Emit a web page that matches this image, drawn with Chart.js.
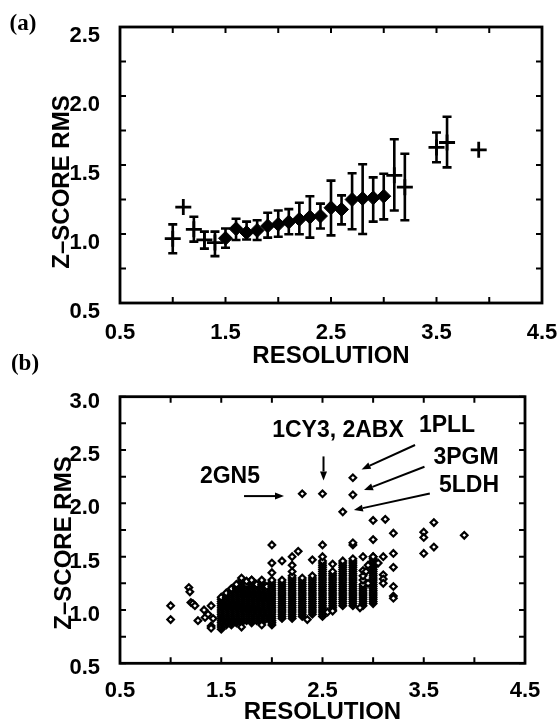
<!DOCTYPE html>
<html><head><meta charset="utf-8">
<script src="https://cdn.jsdelivr.net/npm/chart.js@4/dist/chart.umd.min.js"></script>
<style>
html,body{margin:0;padding:0;background:#fff;}
body{width:558px;height:721px;position:relative;overflow:hidden;}
#ca{position:absolute;left:0;top:0;}
#cb{position:absolute;left:0;top:340px;}
</style></head><body>
<canvas id="ca" width="558" height="372"></canvas>
<canvas id="cb" width="558" height="400"></canvas>
<script>
// ---------------- DATA ----------------
// Panel (a): binned mean Z-score RMS vs resolution with error bars
const diamondRes  = [1.5, 1.6, 1.7, 1.8, 1.9, 2.0, 2.1, 2.2, 2.3, 2.4, 2.5, 2.6, 2.7, 2.8, 2.9, 3.0];
const diamondRms  = [0.969, 1.038, 1.010, 1.026, 1.058, 1.070, 1.087, 1.106, 1.123, 1.130, 1.190, 1.178, 1.250, 1.257, 1.262, 1.274];
const diamondLow  = [0.900, 0.957, 0.960, 0.957, 0.974, 0.980, 0.998, 0.998, 0.974, 1.040, 0.990, 1.070, 1.034, 1.000, 1.090, 1.106];
const diamondHigh = [1.040, 1.110, 1.090, 1.100, 1.154, 1.170, 1.180, 1.226, 1.274, 1.220, 1.387, 1.280, 1.440, 1.505, 1.410, 1.437];
const crossRes  = [1.0, 1.1, 1.2, 1.3, 1.4, 3.1, 3.2, 3.5, 3.6, 3.9];
const crossRms  = [0.966, 1.195, 1.034, 0.957, 0.938, 1.425, 1.339, 1.627, 1.663, 1.610];
const crossLow  = [0.860, null, 0.945, 0.894, 0.840, 1.170, 1.100, 1.520, 1.483, null];
const crossHigh = [1.070, null, 1.125, 1.017, 1.017, 1.687, 1.582, 1.735, 1.850, null];

// Panel (b): individual structures, stacked per resolution value
const colRes = [1.5, 1.55, 1.6, 1.65, 1.7, 1.75, 1.8, 1.85, 1.9, 1.95, 2.0, 2.1, 2.2, 2.3, 2.4, 2.5, 2.6, 2.7, 2.8, 2.9, 3.0];
const colRms = [
  [0.82,0.84,0.86,0.88,0.90,0.92,0.94,0.96,0.98,1.00,1.02,1.04,1.06,1.08,1.10,1.12],
  [0.86,0.88,0.90,0.92,0.94,0.96,0.98,1.00,1.02,1.04,1.06,1.08,1.10,1.12,1.14,1.16],
  [0.86,0.88,0.90,0.92,0.94,0.96,0.98,1.00,1.02,1.04,1.06,1.08,1.10,1.12,1.14,1.16,1.18,1.20],
  [0.88,0.90,0.92,0.94,0.96,0.98,1.00,1.02,1.04,1.06,1.08,1.10,1.12,1.14,1.16,1.18,1.20,1.22],
  [0.88,0.90,0.92,0.94,0.96,0.98,1.00,1.02,1.04,1.06,1.08,1.10,1.12,1.14,1.16,1.18,1.20,1.22,1.24,1.26,1.28],
  [0.90,0.92,0.94,0.96,0.98,1.00,1.02,1.04,1.06,1.08,1.10,1.12,1.14,1.16,1.18,1.20,1.22,1.24],
  [0.88,0.90,0.92,0.94,0.96,0.98,1.00,1.02,1.04,1.06,1.08,1.10,1.12,1.14,1.16,1.18,1.20,1.22,1.24,1.26,1.28],
  [0.90,0.92,0.94,0.96,0.98,1.00,1.02,1.04,1.06,1.08,1.10,1.12,1.14,1.16,1.18,1.20,1.22,1.24],
  [0.88,0.90,0.92,0.94,0.96,0.98,1.00,1.02,1.04,1.06,1.08,1.10,1.12,1.14,1.16,1.18,1.20,1.22,1.24,1.26,1.28],
  [0.92,0.94,0.96,0.98,1.00,1.02,1.04,1.06,1.08,1.10,1.12,1.14,1.16,1.18,1.20,1.22],
  [0.86,0.88,0.90,0.92,0.94,0.96,0.98,1.00,1.02,1.04,1.06,1.08,1.10,1.12,1.14,1.16,1.18,1.20,1.22,1.24,1.26,1.28],
  [0.92,0.94,0.96,0.98,1.00,1.02,1.04,1.06,1.08,1.10,1.12,1.14,1.16,1.18,1.20,1.22,1.24,1.26,1.28],
  [0.92,0.94,0.96,0.98,1.00,1.02,1.04,1.06,1.08,1.10,1.12,1.14,1.16,1.18,1.20,1.22,1.24,1.26,1.28,1.30,1.32],
  [0.94,0.96,0.98,1.00,1.02,1.04,1.06,1.08,1.10,1.12,1.14,1.16,1.18,1.20,1.22,1.24,1.26,1.28,1.30],
  [0.96,0.98,1.00,1.02,1.04,1.06,1.08,1.10,1.12,1.14,1.16,1.18,1.20,1.22,1.24,1.26,1.28,1.30,1.32],
  [0.94,0.96,0.98,1.00,1.02,1.04,1.06,1.08,1.10,1.12,1.14,1.16,1.18,1.20,1.22,1.24,1.26,1.28,1.30,1.32,1.34,1.36,1.38,1.40,1.42,1.44,1.46],
  [1.00,1.02,1.04,1.06,1.08,1.10,1.12,1.14,1.16,1.18,1.20,1.22,1.24,1.26,1.28,1.30,1.32,1.34,1.36],
  [1.04,1.06,1.08,1.10,1.12,1.14,1.16,1.18,1.20,1.22,1.24,1.26,1.28,1.30,1.32,1.34,1.36,1.38,1.40,1.42,1.44,1.46],
  [1.04,1.06,1.08,1.10,1.12,1.14,1.16,1.18,1.20,1.22,1.24,1.26,1.28,1.30,1.32,1.34,1.36,1.38,1.40,1.42,1.44,1.46,1.48],
  [1.04,1.06,1.08,1.10,1.12,1.14,1.16,1.18,1.20,1.22,1.24,1.28,1.32],
  [1.06,1.08,1.10,1.12,1.14,1.16,1.18,1.20,1.22,1.24,1.26,1.28,1.30,1.32,1.34,1.36,1.38,1.40,1.42,1.44,1.46,1.48,1.50]
];
// scattered structures outside the dense stacks
const outRes = [1.0, 1.0, 1.18, 1.19, 1.2, 1.22, 1.24, 1.27, 1.33, 1.34, 1.37, 1.4, 1.4, 1.4, 1.42,
  1.7, 1.9, 2.35, 2.55, 2.6, 2.87, 1.65, 1.7, 1.75, 1.8,
  2.0, 2.0, 2.0, 2.1, 2.2, 2.2, 2.2, 2.26, 2.4, 2.5, 2.5, 2.6, 2.8, 2.8, 2.9, 2.9, 2.95, 2.93,
  3.0, 3.12, 3.0, 3.2, 3.5, 3.5, 3.6, 3.5, 3.6, 3.9,
  3.0, 3.1, 3.2, 3.2, 3.1, 3.1, 3.1, 3.2, 3.2, 3.2, 3.05, 2.95];
const outRms = [1.04, 0.91, 1.21, 1.17, 1.07, 1.06, 1.04, 0.90, 1.00, 0.93, 0.96, 1.04, 0.85, 0.83, 0.92,
  0.84, 0.86, 0.91, 0.98, 0.99, 1.02, 1.24, 1.30, 1.27, 1.28,
  1.61, 1.44, 1.35, 1.46, 1.50, 1.42, 1.36, 1.55, 1.47, 1.61, 1.50, 1.43, 1.61, 1.63, 1.50, 1.37, 1.42, 1.36,
  1.84, 1.85, 1.66, 1.72, 1.73, 1.68, 1.82, 1.53, 1.59, 1.70,
  1.50, 1.50, 1.53, 1.40, 1.33, 1.29, 1.25, 1.22, 1.13, 1.11, 1.44, 1.25];
// labelled outliers
const namedIds = ['2GN5', '1CY3, 2ABX', '1PLL', '3PGM', '5LDH'];
const namedRes = [2.3, 2.5, 2.8, 2.8, 2.7];
const namedRms = [2.09, 2.09, 2.24, 2.08, 1.92];

// Axis tick labels
const xTickValues = [0.5, 1.5, 2.5, 3.5, 4.5];
const xTickLabels = ['0.5', '1.5', '2.5', '3.5', '4.5'];
const yTickValuesA = [0.5, 1.0, 1.5, 2.0, 2.5];
const yTickLabelsA = ['0.5', '1.0', '1.5', '2.0', '2.5'];
const yTickValuesB = [0.5, 1.0, 1.5, 2.0, 2.5, 3.0];
const yTickLabelsB = ['0.5', '1.0', '1.5', '2.0', '2.5', '3.0'];

// ---------------- RENDERING ----------------
const FONT = "'Liberation Sans', Arial, Helvetica, sans-serif";
const SERIF = "'Liberation Serif', 'Times New Roman', serif";

function labelFor(values, labels) {
  return v => {
    const i = values.findIndex(t => Math.abs(t - v) < 1e-6);
    return i >= 0 ? labels[i] : '';
  };
}

const framePlugin = {
  id: 'frame',
  beforeDatasetsDraw(chart) {
    const {ctx, chartArea: a, scales: {x, y}} = chart;
    ctx.save();
    ctx.strokeStyle = '#000';
    ctx.lineWidth = 2;
    ctx.beginPath();
    x.ticks.forEach(t => {
      const px = x.getPixelForValue(t.value);
      ctx.moveTo(px, a.bottom); ctx.lineTo(px, a.bottom - 6);
      ctx.moveTo(px, a.top); ctx.lineTo(px, a.top + 6);
    });
    y.ticks.forEach(t => {
      const py = y.getPixelForValue(t.value);
      ctx.moveTo(a.left, py); ctx.lineTo(a.left + 6, py);
      ctx.moveTo(a.right, py); ctx.lineTo(a.right - 6, py);
    });
    ctx.stroke();
    ctx.lineWidth = 2.8;
    ctx.strokeRect(a.left, a.top, a.right - a.left, a.bottom - a.top);
    ctx.restore();
  }
};

const errorBarPlugin = {
  id: 'errorBars',
  beforeDatasetsDraw(chart) {
    const {ctx, scales: {x, y}} = chart;
    ctx.save();
    ctx.strokeStyle = '#000';
    ctx.lineWidth = 2.6;
    chart.data.datasets.forEach(ds => {
      if (!ds.errLow) return;
      ds.data.forEach((p, i) => {
        const lo = ds.errLow[i], hi = ds.errHigh[i];
        if (lo == null || hi == null) return;
        const px = x.getPixelForValue(p.x);
        const yl = y.getPixelForValue(lo), yh = y.getPixelForValue(hi);
        ctx.beginPath();
        ctx.moveTo(px, yl); ctx.lineTo(px, yh);
        ctx.moveTo(px - 4.5, yl); ctx.lineTo(px + 4.5, yl);
        ctx.moveTo(px - 4.5, yh); ctx.lineTo(px + 4.5, yh);
        ctx.stroke();
      });
    });
    ctx.restore();
  }
};

function textPlugin(id, panelLabel, labelPos, yTitlePos) {
  return {
    id,
    afterDraw(chart) {
      const {ctx} = chart;
      ctx.save();
      ctx.fillStyle = '#000';
      ctx.font = 'bold 23px ' + SERIF;
      ctx.textAlign = 'center';
      ctx.textBaseline = 'middle';
      ctx.fillText(panelLabel, labelPos[0], labelPos[1]);
      ctx.translate(yTitlePos[0], yTitlePos[1]);
      ctx.rotate(-Math.PI / 2);
      ctx.font = 'bold 24px ' + FONT;
      ctx.fillText('Z\u2013SCORE RMS', 0, 0);
      ctx.restore();
    }
  };
}

function arrow(ctx, x0, y0, x1, y1) {
  const ang = Math.atan2(y1 - y0, x1 - x0);
  const hl = 9, hw = 3.5;
  const bx = x1 - hl * Math.cos(ang), by = y1 - hl * Math.sin(ang);
  ctx.beginPath();
  ctx.moveTo(x0, y0); ctx.lineTo(bx, by);
  ctx.stroke();
  ctx.beginPath();
  ctx.moveTo(x1, y1);
  ctx.lineTo(bx - hw * Math.sin(ang), by + hw * Math.cos(ang));
  ctx.lineTo(bx + hw * Math.sin(ang), by - hw * Math.cos(ang));
  ctx.closePath();
  ctx.fill();
}

// annotation label anchors (data coordinates) and arrow segments (data coordinates)
const annText = [[1.586, 2.246], [2.653, 2.677], [3.73, 2.733], [3.917, 2.424], [3.947, 2.162]];
const annArrows = [
  [[1.725, 2.068], [2.12, 2.068]],
  [[2.51, 2.44], [2.51, 2.215]],
  [[3.414, 2.547], [2.886, 2.318]],
  [[3.507, 2.343], [2.91, 2.124]],
  [[3.56, 2.093], [2.81, 1.937]]
];

const annotationPlugin = {
  id: 'annotations',
  afterDraw(chart) {
    const {ctx, scales: {x, y}} = chart;
    ctx.save();
    ctx.fillStyle = '#000';
    ctx.strokeStyle = '#000';
    ctx.lineWidth = 2;
    ctx.font = 'bold 23px ' + FONT;
    ctx.textAlign = 'center';
    ctx.textBaseline = 'middle';
    namedIds.forEach((name, i) => {
      ctx.fillText(name, x.getPixelForValue(annText[i][0]), y.getPixelForValue(annText[i][1]));
    });
    annArrows.forEach(([p0, p1]) => {
      arrow(ctx, x.getPixelForValue(p0[0]), y.getPixelForValue(p0[1]),
                 x.getPixelForValue(p1[0]), y.getPixelForValue(p1[1]));
    });
    ctx.restore();
  }
};

function scales(yMax, yVals, yLabels, chartTitlePad, xHeight, labelOffsetY, xPad) {
  return {
    x: {
      type: 'linear', min: 0.5, max: 4.5,
      grid: {display: false}, border: {display: false},
      ticks: {stepSize: 0.5, autoSkip: false, maxRotation: 0, color: '#000', padding: xPad,
              font: {size: 22, weight: 'bold', family: FONT},
              callback: labelFor(xTickValues, xTickLabels)},
      title: {display: true, text: 'RESOLUTION', color: '#000',
              font: {size: 24, weight: 'bold', family: FONT, lineHeight: 1},
              padding: {top: 0, bottom: chartTitlePad}},
      afterFit: s => { s.height = xHeight; s.paddingLeft = 0; s.paddingRight = 0; }
    },
    y: {
      type: 'linear', min: 0.5, max: yMax,
      grid: {display: false}, border: {display: false},
      ticks: {stepSize: 0.25, autoSkip: false, color: '#000', padding: 12, labelOffset: labelOffsetY,
              font: {size: 22, weight: 'bold', family: FONT},
              callback: labelFor(yVals, yLabels)},
      afterFit: s => { s.width = 120; s.paddingTop = 0; s.paddingBottom = 0; }
    }
  };
}

const common = {
  responsive: false, animation: false, devicePixelRatio: 1,
  plugins: {legend: {display: false}, tooltip: {enabled: false}}
};

// Chart (a)
new Chart(document.getElementById('ca'), {
  type: 'scatter',
  data: {
    datasets: [
      {
        label: 'binned (diamond)',
        data: diamondRes.map((r, i) => ({x: r, y: diamondRms[i]})),
        errLow: diamondLow, errHigh: diamondHigh,
        pointStyle: 'rectRot', pointRadius: 7, backgroundColor: '#000', borderColor: '#000', borderWidth: 1
      },
      {
        label: 'binned (cross)',
        data: crossRes.map((r, i) => ({x: r, y: crossRms[i]})),
        errLow: crossLow, errHigh: crossHigh,
        pointStyle: 'cross', pointRadius: 8, borderColor: '#000', borderWidth: 2.8
      }
    ]
  },
  options: Object.assign({}, common, {
    layout: {padding: {left: 0, right: 16, top: 27, bottom: 0}},
    scales: scales(2.5, yTickValuesA, yTickLabelsA, 4, 69, 9, 9)
  }),
  plugins: [framePlugin, errorBarPlugin, textPlugin('txtA', '(a)', [23, 24], [62, 182])]
});

// Chart (b)
const bPoints = [];
colRes.forEach((r, i) => colRms[i].forEach(v => bPoints.push({x: r, y: v})));
outRes.forEach((r, i) => bPoints.push({x: r, y: outRms[i]}));
namedRes.forEach((r, i) => bPoints.push({x: r, y: namedRms[i]}));

new Chart(document.getElementById('cb'), {
  type: 'scatter',
  data: {
    datasets: [{
      label: 'structures',
      data: bPoints,
      pointStyle: 'rectRot', pointRadius: 3.3, backgroundColor: '#fff', borderColor: '#000', borderWidth: 2.2
    }]
  },
  options: Object.assign({}, common, {
    layout: {padding: {left: 0, right: 33, top: 56.7, bottom: 0}},
    scales: scales(3.0, yTickValuesB, yTickLabelsB, 16, 76.7, 5, 6)
  }),
  plugins: [framePlugin, annotationPlugin, textPlugin('txtB', '(b)', [25, 24], [64, 203])]
});
</script>
</body></html>
